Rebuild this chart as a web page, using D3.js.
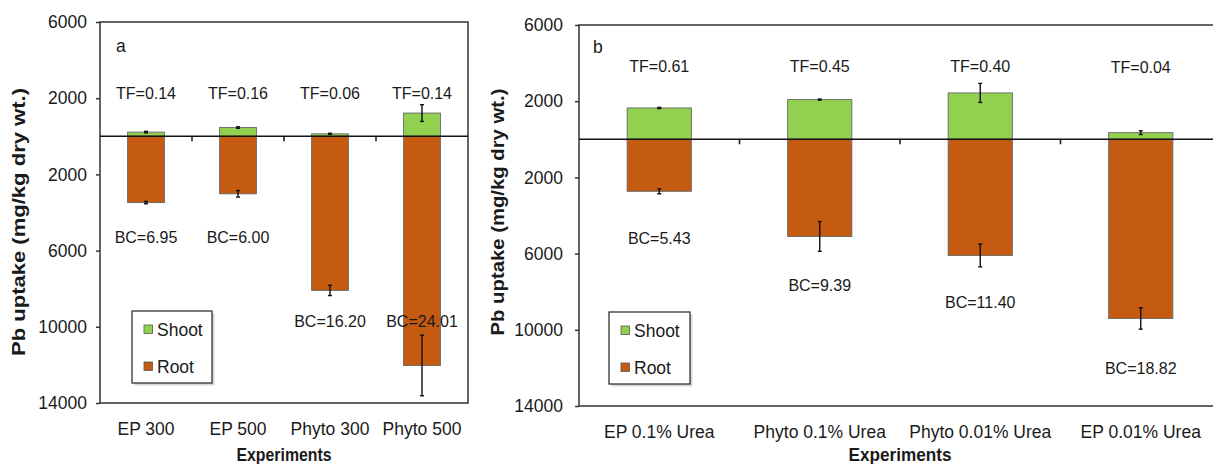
<!DOCTYPE html>
<html>
<head>
<meta charset="utf-8">
<script src="https://cdn.jsdelivr.net/npm/d3@7"></script>
<style>
  html, body { margin: 0; padding: 0; background: #fff; }
  svg { display: block; }
  text { font-family: "Liberation Sans", Arial, sans-serif; fill: #1a1a1a; }
</style>
</head>
<body>
<svg id="chart" width="1213" height="464"></svg>
<script>
// ---------- DATA ----------
const yTickValues = [6000, 2000, -2000, -6000, -10000, -14000];
const seriesNames = ["Shoot", "Root"];

// Panel a
const categoriesA = ["EP 300", "EP 500", "Phyto 300", "Phyto 500"];
const shootA = [220, 460, 130, 1220];
const shootErrA = [40, 40, 30, 440];
const rootA = [3480, 3020, 8090, 12030];
const rootErrA = [60, 170, 270, 1590];
const tfA = ["TF=0.14", "TF=0.16", "TF=0.06", "TF=0.14"];
const bcA = ["BC=6.95", "BC=6.00", "BC=16.20", "BC=24.01"];

// Panel b
const categoriesB = ["EP 0.1% Urea", "Phyto 0.1% Urea", "Phyto 0.01% Urea", "EP 0.01% Urea"];
const shootB = [1645, 2085, 2435, 350];
const shootErrB = [30, 30, 500, 100];
const rootB = [2730, 5100, 6095, 9405];
const rootErrB = [130, 780, 600, 560];
const tfB = ["TF=0.61", "TF=0.45", "TF=0.40", "TF=0.04"];
const bcB = ["BC=5.43", "BC=9.39", "BC=11.40", "BC=18.82"];

// ---------- LAYOUT (positions of annotation labels, in axis units) ----------
const layoutA = {
  left: 100, right: 468, top: 22, bottom: 403,
  tfAt: [1960, 1960, 1960, 1960],
  bcAt: [-5600, -5600, -10000, -10000],
  tag: "a", tagX: 116, tagY: 52,
  legend: { x: 132, y: 311, w: 80, h: 72 },
  yTitleX: 25, yTitleLen: 268, yTitleCY: 222,
  xTitleLen: 95, tickPad: 9
};
const layoutB = {
  left: 579, right: 1221, top: 25, bottom: 406,
  tfAt: [3550, 3550, 3550, 3500],
  bcAt: [-5470, -7980, -8830, -12300],
  tag: "b", tagX: 593, tagY: 53,
  legend: { x: 609, y: 312, w: 81, h: 72 },
  yTitleX: 504, yTitleLen: 247, yTitleCY: 212,
  xTitleLen: 103, tickPad: 12
};

const COL_SHOOT = "#92D050";
const COL_ROOT = "#C55A11";
const colors = [COL_SHOOT, COL_ROOT];

const svg = d3.select("#chart");
svg.append("rect").attr("width", 1213).attr("height", 464).attr("fill", "#fff");

function drawPanel(cats, shoot, shootErr, root, rootErr, tf, bc, L) {
  const g = svg.append("g");
  const y = d3.scaleLinear().domain([-14000, 6000]).range([L.bottom, L.top]);
  const x = d3.scaleBand().domain(cats).range([L.left, L.right])
    .paddingInner(0.6).paddingOuter(0.3);
  const step = x.step();

  // y axis
  const yAxis = d3.axisLeft(y).tickValues(yTickValues)
    .tickFormat(d => Math.abs(d)).tickSize(4).tickSizeOuter(0).tickPadding(L.tickPad);
  const ya = g.append("g").attr("transform", `translate(${L.left},0)`).call(yAxis);
  ya.select(".domain").remove();
  ya.selectAll(".tick line").attr("stroke", "#333").attr("stroke-width", 1.5);
  ya.selectAll(".tick text").style("font-size", "17.5px").attr("fill", "#1a1a1a");

  // bars
  const idx = d3.range(cats.length);
  g.selectAll(".shoot").data(idx).join("rect")
    .attr("x", i => x(cats[i])).attr("width", x.bandwidth())
    .attr("y", i => y(shoot[i])).attr("height", i => y(0) - y(shoot[i]))
    .attr("fill", COL_SHOOT).attr("stroke", "#666").attr("stroke-width", 0.9);
  g.selectAll(".root").data(idx).join("rect")
    .attr("x", i => x(cats[i])).attr("width", x.bandwidth())
    .attr("y", y(0)).attr("height", i => y(-root[i]) - y(0))
    .attr("fill", COL_ROOT).attr("stroke", "#666").attr("stroke-width", 0.9);

  // error bars
  const errs = [];
  idx.forEach(i => {
    errs.push({ cx: x(cats[i]) + x.bandwidth() / 2, v: shoot[i], e: shootErr[i] });
    errs.push({ cx: x(cats[i]) + x.bandwidth() / 2, v: -root[i], e: rootErr[i] });
  });
  const eg = g.selectAll(".err").data(errs).join("g").attr("stroke", "#111").attr("stroke-width", 1.4);
  eg.append("line").attr("x1", d => d.cx).attr("x2", d => d.cx)
    .attr("y1", d => y(d.v + d.e)).attr("y2", d => y(d.v - d.e));
  eg.append("line").attr("x1", d => d.cx - 2).attr("x2", d => d.cx + 2)
    .attr("y1", d => y(d.v + d.e)).attr("y2", d => y(d.v + d.e));
  eg.append("line").attr("x1", d => d.cx - 2).attr("x2", d => d.cx + 2)
    .attr("y1", d => y(d.v - d.e)).attr("y2", d => y(d.v - d.e));

  // frame
  g.append("rect").attr("x", L.left).attr("y", L.top)
    .attr("width", L.right - L.left).attr("height", L.bottom - L.top)
    .attr("fill", "none").attr("stroke", "#333").attr("stroke-width", 1.5);

  // zero line and category separators
  g.append("line").attr("x1", L.left).attr("x2", L.right)
    .attr("y1", y(0)).attr("y2", y(0)).attr("stroke", "#111").attr("stroke-width", 1.5);
  g.selectAll(".sep").data(cats.slice(1)).join("line")
    .attr("x1", c => x(c) - x.paddingInner() * step / 2)
    .attr("x2", c => x(c) - x.paddingInner() * step / 2)
    .attr("y1", y(0)).attr("y2", y(0) + 5)
    .attr("stroke", "#111").attr("stroke-width", 1.5);

  // category labels
  const xAxis = d3.axisBottom(x).tickSize(0).tickPadding(19.5);
  const xa = g.append("g").attr("transform", `translate(0,${L.bottom})`).call(xAxis);
  xa.select(".domain").remove();
  xa.selectAll(".tick text").style("font-size", "17.5px").attr("fill", "#1a1a1a");

  // TF / BC labels
  g.selectAll(".tf").data(idx).join("text")
    .attr("x", i => x(cats[i]) + x.bandwidth() / 2).attr("y", i => y(L.tfAt[i]))
    .attr("text-anchor", "middle").style("font-size", "16px").text(i => tf[i]);
  g.selectAll(".bc").data(idx).join("text")
    .attr("x", i => x(cats[i]) + x.bandwidth() / 2).attr("y", i => y(L.bcAt[i]))
    .attr("text-anchor", "middle").style("font-size", "16px").text(i => bc[i]);

  // panel tag
  g.append("text").attr("x", L.tagX).attr("y", L.tagY).style("font-size", "17.5px").text(L.tag);

  // legend
  const lg = g.append("g").attr("transform", `translate(${L.legend.x},${L.legend.y})`);
  lg.append("rect").attr("x", 2.5).attr("y", 2.5).attr("width", L.legend.w).attr("height", L.legend.h)
    .attr("fill", "#bbb").attr("opacity", 0.6);
  lg.append("rect").attr("width", L.legend.w).attr("height", L.legend.h)
    .attr("fill", "#fff").attr("stroke", "#333").attr("stroke-width", 1.3);
  seriesNames.forEach((s, i) => {
    const ly = 14 + i * 37;
    lg.append("rect").attr("x", 12).attr("y", ly).attr("width", 8.5).attr("height", 8.5)
      .attr("fill", colors[i]).attr("stroke", "#555").attr("stroke-width", 0.8);
    lg.append("text").attr("x", 25).attr("y", ly + 10.5).style("font-size", "17.5px").text(s);
  });

  // axis titles
  g.append("text")
    .attr("transform", `translate(${L.yTitleX},${L.yTitleCY}) rotate(-90)`)
    .attr("text-anchor", "middle").style("font-size", "18px").style("font-weight", "bold")
    .attr("textLength", L.yTitleLen).attr("lengthAdjust", "spacingAndGlyphs")
    .text("Pb uptake (mg/kg dry wt.)");
  g.append("text")
    .attr("x", (L.left + L.right) / 2).attr("y", 461)
    .attr("text-anchor", "middle").style("font-size", "17.5px").style("font-weight", "bold")
    .attr("textLength", L.xTitleLen).attr("lengthAdjust", "spacingAndGlyphs")
    .text("Experiments");
}

drawPanel(categoriesA, shootA, shootErrA, rootA, rootErrA, tfA, bcA, layoutA);
drawPanel(categoriesB, shootB, shootErrB, rootB, rootErrB, tfB, bcB, layoutB);
</script>
</body>
</html>
